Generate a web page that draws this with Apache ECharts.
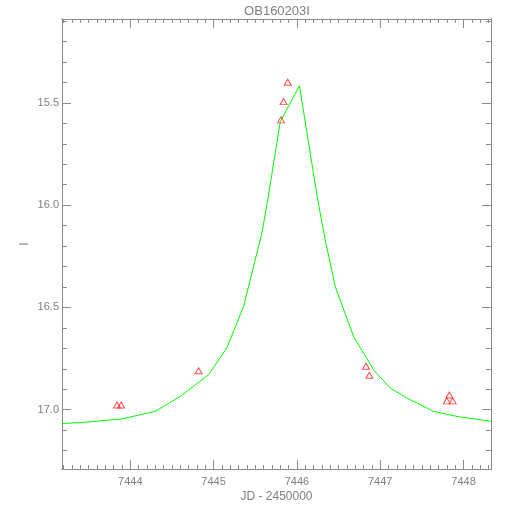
<!DOCTYPE html>
<html>
<head>
<meta charset="utf-8">
<script src="https://cdn.jsdelivr.net/npm/echarts@6/dist/echarts.min.js"></script>
<style>html,body{margin:0;padding:0;background:#fff}#c{width:510px;height:510px}</style>
</head>
<body>
<div id="c"></div>
<script>
// ---- data ----
const chartTitle = 'OB160203I';
const xName = 'JD - 2450000';
const yName = 'I';
const xMajorTicks = [7444, 7445, 7446, 7447, 7448];
const yMajorTicks = [15.5, 16.0, 16.5, 17.0];
// observed photometry (JD-2450000, I mag)
const obsJD  = [7443.84, 7443.89, 7444.82, 7445.81, 7445.84, 7445.89, 7446.83, 7446.87, 7447.80, 7447.83, 7447.87];
const obsMag = [16.977, 16.977, 16.810, 15.583, 15.494, 15.399, 16.788, 16.832, 16.957, 16.928, 16.957];
// model curve (JD-2450000, I mag)
const modelJD  = [7443.18, 7443.50, 7443.90, 7444.30, 7444.60, 7444.94, 7445.16, 7445.36, 7445.58, 7445.65, 7445.80, 7446.03, 7446.25, 7446.34, 7446.46, 7446.68, 7446.92, 7447.12, 7447.32, 7447.64, 7447.92, 7448.33];
const modelMag = [17.068, 17.060, 17.045, 17.008, 16.935, 16.829, 16.697, 16.495, 16.135, 15.974, 15.592, 15.416, 15.974, 16.170, 16.398, 16.642, 16.805, 16.894, 16.943, 17.008, 17.033, 17.057];

// ---- layout / style ----
const X_MIN = 7443.18, X_MAX = 7448.33;
const Y_MIN = 15.09, Y_MAX = 17.29;
const AX = '#8c8c8c', TXT = '#808080';
const FONT = 'Liberation Sans';

const xMinor = [], yMinor = [];
for (let i = Math.ceil(X_MIN * 10); i <= Math.floor(X_MAX * 10); i++) xMinor.push(i / 10);
for (let i = Math.ceil(Y_MIN * 10); i <= Math.floor(Y_MAX * 10); i++) yMinor.push(i / 10);

function xAx(pos, ticks, len, labels) {
  return {
    type: 'value', position: pos, min: X_MIN, max: X_MAX,
    splitLine: {show: false},
    axisLine: {show: true, onZero: false, lineStyle: {color: AX, width: 1}},
    axisTick: {show: true, inside: true, length: len, customValues: ticks, lineStyle: {color: AX}},
    axisLabel: labels ? {show: true, customValues: ticks, color: TXT, fontSize: 11, fontFamily: FONT, margin: 7, formatter: v => String(Math.round(v))} : {show: false}
  };
}
function yAx(pos, ticks, len, labels) {
  return {
    type: 'value', position: pos, min: Y_MIN, max: Y_MAX, inverse: true,
    splitLine: {show: false},
    axisLine: {show: true, onZero: false, lineStyle: {color: AX, width: 1}},
    axisTick: {show: true, inside: true, length: len, customValues: ticks, lineStyle: {color: AX}},
    axisLabel: labels ? {show: true, customValues: ticks, color: TXT, fontSize: 11, fontFamily: FONT, margin: 3, formatter: v => v.toFixed(1)} : {show: false}
  };
}

const xa0 = xAx('bottom', xMajorTicks, 9, true);
xa0.name = xName; xa0.nameLocation = 'middle'; xa0.nameGap = 22; xa0.nameMoveOverlap = false;
xa0.nameTextStyle = {color: TXT, fontSize: 12, fontFamily: FONT};
const ya0 = yAx('left', yMajorTicks, 9, true);
ya0.name = yName; ya0.nameLocation = 'middle'; ya0.nameGap = 31; ya0.nameRotate = 90; ya0.nameMoveOverlap = false;
ya0.nameTextStyle = {color: TXT, fontSize: 12, fontFamily: FONT};

const chart = echarts.init(document.getElementById('c'), null, {renderer: 'canvas'});
chart.setOption({
  backgroundColor: '#ffffff',
  animation: false,
  grid: {left: 62, right: 19, top: 19, bottom: 41, containLabel: false},
  graphic: [{
    type: 'text', x: 277, y: 11,
    style: {text: chartTitle, textAlign: 'center', textVerticalAlign: 'middle', fill: TXT, fontSize: 13, fontFamily: FONT}
  }],
  xAxis: [xa0, xAx('bottom', xMinor, 4, false), xAx('top', xMajorTicks, 9, false), xAx('top', xMinor, 4, false)],
  yAxis: [ya0, yAx('left', yMinor, 5, false), yAx('right', yMajorTicks, 9, false), yAx('right', yMinor, 5, false)],
  series: [
    {
      type: 'line', xAxisIndex: 0, yAxisIndex: 0,
      data: modelJD.map((x, i) => [x, modelMag[i]]),
      showSymbol: false, symbol: 'none', smooth: false,
      lineStyle: {color: '#00ff00', width: 1}, z: 2
    },
    {
      type: 'scatter', xAxisIndex: 0, yAxisIndex: 0,
      data: obsJD.map((x, i) => [x, obsMag[i]]),
      symbol: 'triangle', symbolSize: [7, 6],
      itemStyle: {color: 'rgba(0,0,0,0)', borderColor: '#ff2020', borderWidth: 1}, z: 3
    }
  ]
});
</script>
</body>
</html>
